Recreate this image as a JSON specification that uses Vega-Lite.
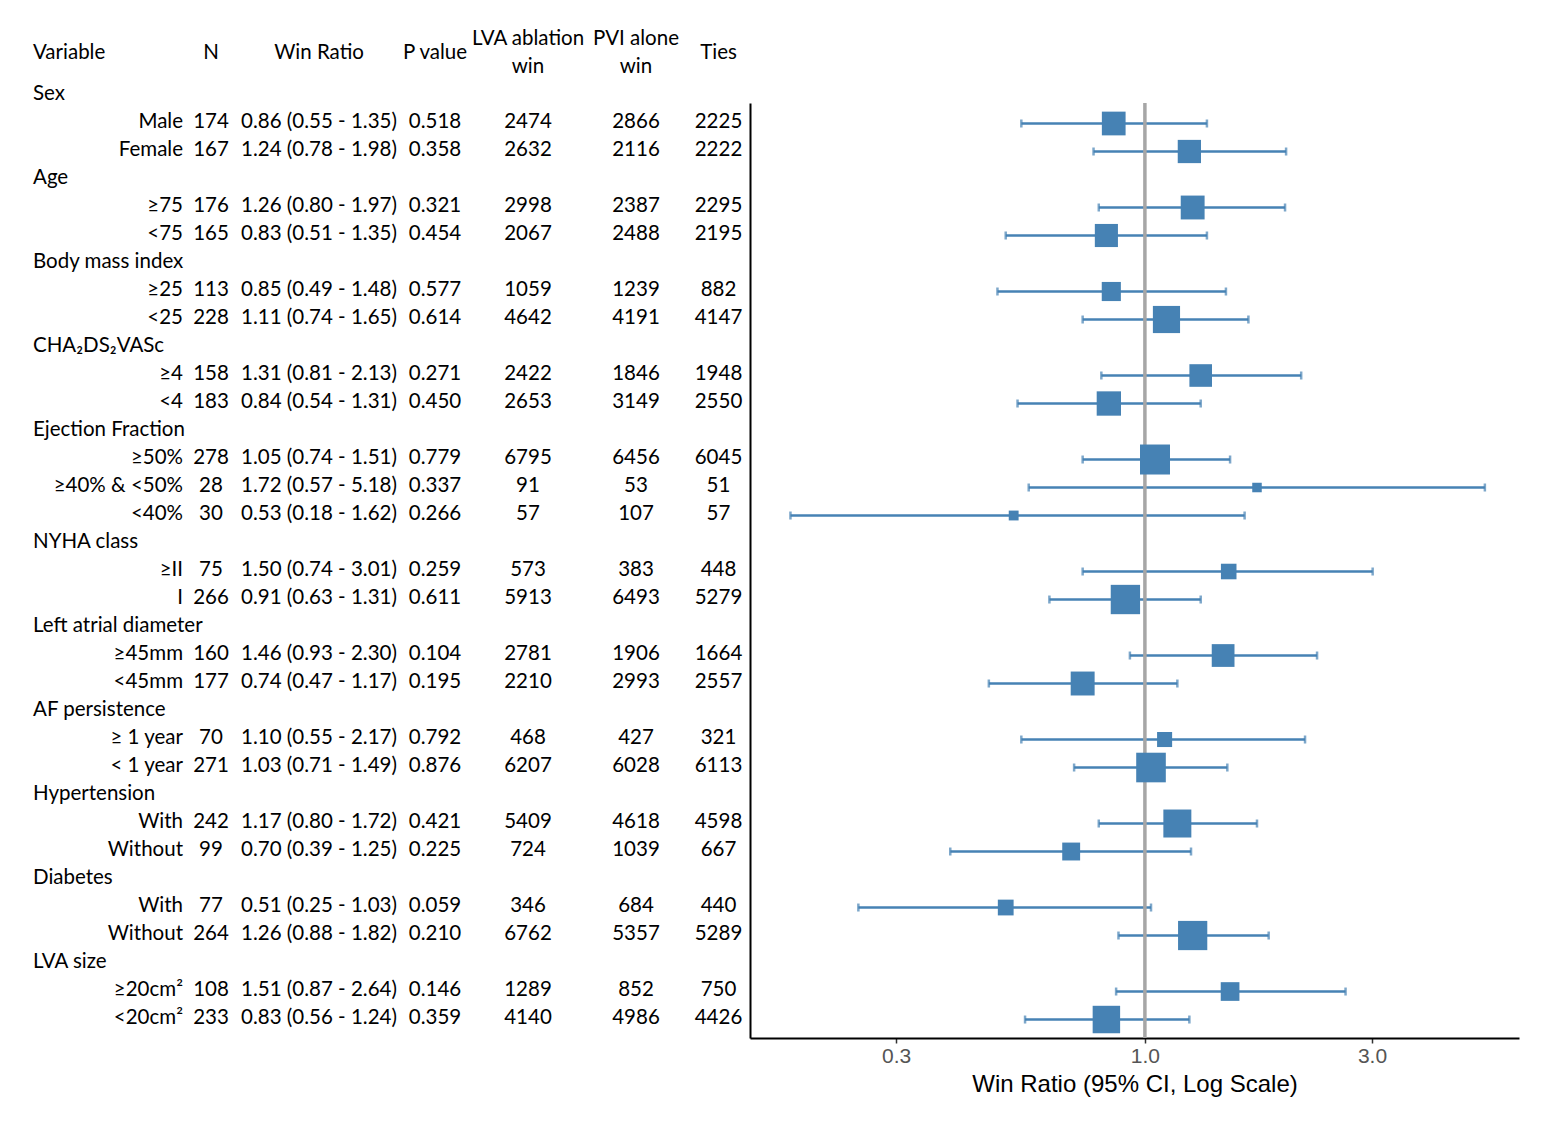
{
  "$schema": "https://vega.github.io/schema/vega-lite/v6.json",
  "padding": {"left": 33, "top": 28, "right": 10, "bottom": 10},
  "autosize": {"type": "pad"},
  "config": {
    "view": {"stroke": null},
    "title": {"font": "Lato", "fontSize": 20.5, "fontWeight": "normal", "color": "black", "lineHeight": 28},
    "text": {"font": "Lato", "fontSize": 20.5, "color": "black", "baseline": "middle"}
  },
  "datasets": {
    "t": [
      {"id": "Sex", "grp": "Sex", "lab": "", "n": "", "wr": "", "p": "", "lva": "", "pvi": "", "ties": ""},
      {"id": "Sex: Male", "grp": "", "lab": "Male", "n": 174, "wr": "0.86 (0.55 - 1.35)", "p": "0.518", "lva": 2474, "pvi": 2866, "ties": 2225, "est": 0.86, "lo": 0.55, "hi": 1.35},
      {"id": "Sex: Female", "grp": "", "lab": "Female", "n": 167, "wr": "1.24 (0.78 - 1.98)", "p": "0.358", "lva": 2632, "pvi": 2116, "ties": 2222, "est": 1.24, "lo": 0.78, "hi": 1.98},
      {"id": "Age", "grp": "Age", "lab": "", "n": "", "wr": "", "p": "", "lva": "", "pvi": "", "ties": ""},
      {"id": "Age: ≥75", "grp": "", "lab": "≥75", "n": 176, "wr": "1.26 (0.80 - 1.97)", "p": "0.321", "lva": 2998, "pvi": 2387, "ties": 2295, "est": 1.26, "lo": 0.80, "hi": 1.97},
      {"id": "Age: <75", "grp": "", "lab": "<75", "n": 165, "wr": "0.83 (0.51 - 1.35)", "p": "0.454", "lva": 2067, "pvi": 2488, "ties": 2195, "est": 0.83, "lo": 0.51, "hi": 1.35},
      {"id": "Body mass index", "grp": "Body mass index", "lab": "", "n": "", "wr": "", "p": "", "lva": "", "pvi": "", "ties": ""},
      {"id": "BMI: ≥25", "grp": "", "lab": "≥25", "n": 113, "wr": "0.85 (0.49 - 1.48)", "p": "0.577", "lva": 1059, "pvi": 1239, "ties": 882, "est": 0.85, "lo": 0.49, "hi": 1.48},
      {"id": "BMI: <25", "grp": "", "lab": "<25", "n": 228, "wr": "1.11 (0.74 - 1.65)", "p": "0.614", "lva": 4642, "pvi": 4191, "ties": 4147, "est": 1.11, "lo": 0.74, "hi": 1.65},
      {"id": "CHA₂DS₂VASc", "grp": "CHA₂DS₂VASc", "lab": "", "n": "", "wr": "", "p": "", "lva": "", "pvi": "", "ties": ""},
      {"id": "CHA: ≥4", "grp": "", "lab": "≥4", "n": 158, "wr": "1.31 (0.81 - 2.13)", "p": "0.271", "lva": 2422, "pvi": 1846, "ties": 1948, "est": 1.31, "lo": 0.81, "hi": 2.13},
      {"id": "CHA: <4", "grp": "", "lab": "<4", "n": 183, "wr": "0.84 (0.54 - 1.31)", "p": "0.450", "lva": 2653, "pvi": 3149, "ties": 2550, "est": 0.84, "lo": 0.54, "hi": 1.31},
      {"id": "Ejection Fraction", "grp": "Ejection Fraction", "lab": "", "n": "", "wr": "", "p": "", "lva": "", "pvi": "", "ties": ""},
      {"id": "EF: ≥50%", "grp": "", "lab": "≥50%", "n": 278, "wr": "1.05 (0.74 - 1.51)", "p": "0.779", "lva": 6795, "pvi": 6456, "ties": 6045, "est": 1.05, "lo": 0.74, "hi": 1.51},
      {"id": "EF: ≥40% & <50%", "grp": "", "lab": "≥40% & <50%", "n": 28, "wr": "1.72 (0.57 - 5.18)", "p": "0.337", "lva": 91, "pvi": 53, "ties": 51, "est": 1.72, "lo": 0.57, "hi": 5.18},
      {"id": "EF: <40%", "grp": "", "lab": "<40%", "n": 30, "wr": "0.53 (0.18 - 1.62)", "p": "0.266", "lva": 57, "pvi": 107, "ties": 57, "est": 0.53, "lo": 0.18, "hi": 1.62},
      {"id": "NYHA class", "grp": "NYHA class", "lab": "", "n": "", "wr": "", "p": "", "lva": "", "pvi": "", "ties": ""},
      {"id": "NYHA: ≥II", "grp": "", "lab": "≥II", "n": 75, "wr": "1.50 (0.74 - 3.01)", "p": "0.259", "lva": 573, "pvi": 383, "ties": 448, "est": 1.50, "lo": 0.74, "hi": 3.01},
      {"id": "NYHA: I", "grp": "", "lab": "I", "n": 266, "wr": "0.91 (0.63 - 1.31)", "p": "0.611", "lva": 5913, "pvi": 6493, "ties": 5279, "est": 0.91, "lo": 0.63, "hi": 1.31},
      {"id": "Left atrial diameter", "grp": "Left atrial diameter", "lab": "", "n": "", "wr": "", "p": "", "lva": "", "pvi": "", "ties": ""},
      {"id": "LAD: ≥45mm", "grp": "", "lab": "≥45mm", "n": 160, "wr": "1.46 (0.93 - 2.30)", "p": "0.104", "lva": 2781, "pvi": 1906, "ties": 1664, "est": 1.46, "lo": 0.93, "hi": 2.30},
      {"id": "LAD: <45mm", "grp": "", "lab": "<45mm", "n": 177, "wr": "0.74 (0.47 - 1.17)", "p": "0.195", "lva": 2210, "pvi": 2993, "ties": 2557, "est": 0.74, "lo": 0.47, "hi": 1.17},
      {"id": "AF persistence", "grp": "AF persistence", "lab": "", "n": "", "wr": "", "p": "", "lva": "", "pvi": "", "ties": ""},
      {"id": "AF: ≥ 1 year", "grp": "", "lab": "≥ 1 year", "n": 70, "wr": "1.10 (0.55 - 2.17)", "p": "0.792", "lva": 468, "pvi": 427, "ties": 321, "est": 1.10, "lo": 0.55, "hi": 2.17},
      {"id": "AF: < 1 year", "grp": "", "lab": "< 1 year", "n": 271, "wr": "1.03 (0.71 - 1.49)", "p": "0.876", "lva": 6207, "pvi": 6028, "ties": 6113, "est": 1.03, "lo": 0.71, "hi": 1.49},
      {"id": "Hypertension", "grp": "Hypertension", "lab": "", "n": "", "wr": "", "p": "", "lva": "", "pvi": "", "ties": ""},
      {"id": "HTN: With", "grp": "", "lab": "With", "n": 242, "wr": "1.17 (0.80 - 1.72)", "p": "0.421", "lva": 5409, "pvi": 4618, "ties": 4598, "est": 1.17, "lo": 0.80, "hi": 1.72},
      {"id": "HTN: Without", "grp": "", "lab": "Without", "n": 99, "wr": "0.70 (0.39 - 1.25)", "p": "0.225", "lva": 724, "pvi": 1039, "ties": 667, "est": 0.70, "lo": 0.39, "hi": 1.25},
      {"id": "Diabetes", "grp": "Diabetes", "lab": "", "n": "", "wr": "", "p": "", "lva": "", "pvi": "", "ties": ""},
      {"id": "DM: With", "grp": "", "lab": "With", "n": 77, "wr": "0.51 (0.25 - 1.03)", "p": "0.059", "lva": 346, "pvi": 684, "ties": 440, "est": 0.51, "lo": 0.25, "hi": 1.03},
      {"id": "DM: Without", "grp": "", "lab": "Without", "n": 264, "wr": "1.26 (0.88 - 1.82)", "p": "0.210", "lva": 6762, "pvi": 5357, "ties": 5289, "est": 1.26, "lo": 0.88, "hi": 1.82},
      {"id": "LVA size", "grp": "LVA size", "lab": "", "n": "", "wr": "", "p": "", "lva": "", "pvi": "", "ties": ""},
      {"id": "LVA: ≥20cm²", "grp": "", "lab": "≥20cm²", "n": 108, "wr": "1.51 (0.87 - 2.64)", "p": "0.146", "lva": 1289, "pvi": 852, "ties": 750, "est": 1.51, "lo": 0.87, "hi": 2.64},
      {"id": "LVA: <20cm²", "grp": "", "lab": "<20cm²", "n": 233, "wr": "0.83 (0.56 - 1.24)", "p": "0.359", "lva": 4140, "pvi": 4986, "ties": 4426, "est": 0.83, "lo": 0.56, "hi": 1.24}
    ],
    "ref": [{"wr1": 1}]
  },
  "data": {"name": "t"},
  "spacing": 0,
  "bounds": "flush",
  "center": true,
  "hconcat": [
    {
      "width": 150, "height": 979,
      "title": {"text": "Variable", "anchor": "start", "offset": 18},
      "encoding": {
        "y": {"field": "id", "type": "nominal", "sort": null, "axis": null, "scale": {"type": "point", "padding": 0.982, "align": 0.236}}
      },
      "layer": [
        {"mark": {"type": "text", "align": "left"},
         "encoding": {"x": {"datum": 0, "type": "quantitative", "scale": {"domain": [0, 1], "nice": false, "zero": false}, "axis": null},
                      "text": {"field": "grp", "type": "nominal"}}},
        {"mark": {"type": "text", "align": "right"},
         "encoding": {"x": {"datum": 1, "type": "quantitative"},
                      "text": {"field": "lab", "type": "nominal"}}}
      ]
    },
    {
      "width": 56, "height": 979,
      "title": {"text": "N", "offset": 18},
      "mark": {"type": "text", "align": "center"},
      "encoding": {
        "y": {"field": "id", "type": "nominal", "sort": null, "axis": null, "scale": {"type": "point", "padding": 0.982, "align": 0.236}},
        "text": {"field": "n", "type": "nominal"}
      }
    },
    {
      "width": 160, "height": 979,
      "title": {"text": "Win Ratio", "offset": 18},
      "mark": {"type": "text", "align": "center"},
      "encoding": {
        "y": {"field": "id", "type": "nominal", "sort": null, "axis": null, "scale": {"type": "point", "padding": 0.982, "align": 0.236}},
        "text": {"field": "wr", "type": "nominal"}
      }
    },
    {
      "width": 72, "height": 979,
      "title": {"text": "P value", "offset": 18},
      "mark": {"type": "text", "align": "center"},
      "encoding": {
        "y": {"field": "id", "type": "nominal", "sort": null, "axis": null, "scale": {"type": "point", "padding": 0.982, "align": 0.236}},
        "text": {"field": "p", "type": "nominal"}
      }
    },
    {
      "width": 114, "height": 979,
      "title": {"text": ["LVA ablation", "win"], "offset": 4},
      "mark": {"type": "text", "align": "center"},
      "encoding": {
        "y": {"field": "id", "type": "nominal", "sort": null, "axis": null, "scale": {"type": "point", "padding": 0.982, "align": 0.236}},
        "text": {"field": "lva", "type": "nominal"}
      }
    },
    {
      "width": 102, "height": 979,
      "title": {"text": ["PVI alone", "win"], "offset": 4},
      "mark": {"type": "text", "align": "center"},
      "encoding": {
        "y": {"field": "id", "type": "nominal", "sort": null, "axis": null, "scale": {"type": "point", "padding": 0.982, "align": 0.236}},
        "text": {"field": "pvi", "type": "nominal"}
      }
    },
    {
      "width": 63, "height": 979,
      "title": {"text": "Ties", "offset": 18},
      "mark": {"type": "text", "align": "center"},
      "encoding": {
        "y": {"field": "id", "type": "nominal", "sort": null, "axis": null, "scale": {"type": "point", "padding": 0.982, "align": 0.236}},
        "text": {"field": "ties", "type": "nominal"}
      }
    },
    {
      "width": 769, "height": 935,
      "layer": [
        {"mark": {"type": "rule", "color": "#4682b4", "strokeWidth": 2.5},
         "encoding": {
           "y": {"field": "id", "type": "nominal", "sort": null,
                 "scale": {"type": "point", "padding": 0.696, "align": 0.526,
                           "domain": ["Sex: Male", "Sex: Female", "Age", "Age: ≥75", "Age: <75", "Body mass index", "BMI: ≥25", "BMI: <25", "CHA₂DS₂VASc", "CHA: ≥4", "CHA: <4", "Ejection Fraction", "EF: ≥50%", "EF: ≥40% & <50%", "EF: <40%", "NYHA class", "NYHA: ≥II", "NYHA: I", "Left atrial diameter", "LAD: ≥45mm", "LAD: <45mm", "AF persistence", "AF: ≥ 1 year", "AF: < 1 year", "Hypertension", "HTN: With", "HTN: Without", "Diabetes", "DM: With", "DM: Without", "LVA size", "LVA: ≥20cm²", "LVA: <20cm²"]},
                 "axis": {"title": null, "labels": false, "ticks": false, "domainColor": "black", "domainWidth": 2}},
           "x": {"field": "lo", "type": "quantitative",
                 "scale": {"type": "log", "domain": [0.148, 6.11], "nice": false},
                 "axis": {"values": [0.3, 1, 3], "format": ".1f", "title": "Win Ratio (95% CI, Log Scale)",
                          "titleFont": "Liberation Sans", "titleFontSize": 24, "titleFontWeight": "normal", "titleColor": "black", "titlePadding": 6,
                          "labelFont": "Liberation Sans", "labelFontSize": 21, "labelColor": "#555555", "labelPadding": 2,
                          "domainColor": "black", "domainWidth": 2, "tickColor": "#333333", "tickSize": 5, "tickWidth": 1.5, "grid": false}},
           "x2": {"field": "hi"}
         }},
        {"mark": {"type": "tick", "color": "#4682b4", "thickness": 2.5, "size": 8, "orient": "vertical"},
         "encoding": {"x": {"field": "lo", "type": "quantitative"}, "y": {"field": "id", "type": "nominal", "sort": null}}},
        {"mark": {"type": "tick", "color": "#4682b4", "thickness": 2.5, "size": 8, "orient": "vertical"},
         "encoding": {"x": {"field": "hi", "type": "quantitative"}, "y": {"field": "id", "type": "nominal", "sort": null}}},
        {"data": {"name": "ref"},
         "mark": {"type": "rule", "color": "#a6a6a6", "strokeWidth": 3.5},
         "encoding": {"x": {"field": "wr1", "type": "quantitative"}}},
        {"mark": {"type": "square", "filled": true, "color": "#4682b4", "opacity": 1},
         "encoding": {
           "x": {"field": "est", "type": "quantitative"},
           "y": {"field": "id", "type": "nominal", "sort": null},
           "size": {"field": "n", "type": "quantitative", "scale": {"domain": [0, 278], "range": [0, 900]}, "legend": null}
         }}
      ]
    }
  ]
}
